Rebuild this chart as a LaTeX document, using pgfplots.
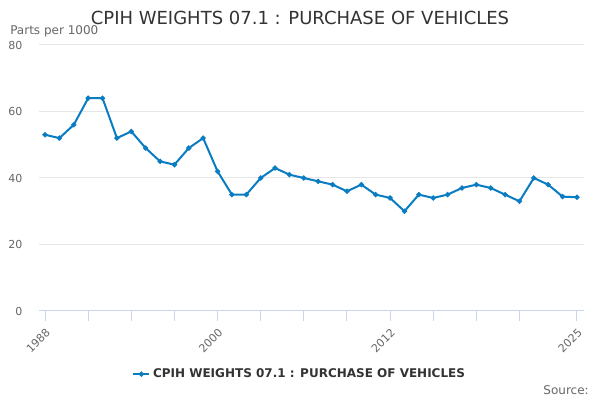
\documentclass[border=0pt]{standalone}
\usepackage{pgfplots}
\pgfplotsset{compat=1.18}
\usepackage{fontspec}
\setmainfont{DejaVu Sans}
\definecolor{serblue}{HTML}{0A7CC1}
\definecolor{axgrey}{HTML}{CCD6EB}
\definecolor{gridgrey}{HTML}{E6E6E6}
\definecolor{labgrey}{HTML}{666666}
\definecolor{txtdark}{HTML}{333333}
\pgfplotstableread{
year val
1988 53
1989 52
1990 56
1991 64
1992 64
1993 52
1994 54
1995 49
1996 45
1997 44
1998 49
1999 52
2000 42
2001 35
2002 35
2003 40
2004 43
2005 41
2006 40
2007 39
2008 38
2009 36
2010 38
2011 35
2012 34
2013 30
2014 35
2015 34
2016 35
2017 37
2018 38
2019 37
2020 35
2021 33
2022 40
2023 38
2024 34.4
2025 34.2
}\datatable
\begin{document}
\begin{tikzpicture}
\path[use as bounding box] (0pt,0pt) rectangle (450pt,300pt);
\begin{axis}[
  at={(29.25pt,66.75pt)}, anchor=south west,
  scale only axis, width=408.75pt, height=199.5pt,
  xmin=1987.58, xmax=2025.49, ymin=0, ymax=80,
  axis x line*=bottom, axis y line*=left,
  x axis line style={draw=axgrey, line width=0.75pt, -},
  y axis line style={draw=none},
  xtick={1988,1991,1994,1997,2000,2003,2006,2009,2012,2015,2018,2021,2025},
  xticklabels={1988,,,,2000,,,,2012,,,,2025},
  xtick align=outside, major tick length=7.5pt,
  xtick style={draw=axgrey, line width=0.75pt},
  ytick={0,20,40,60,80},
  ytick style={draw=none},
  ymajorgrids, grid style={draw=gridgrey, line width=0.75pt},
  /pgf/number format/assume math mode=true,
  x tick label style={rotate=45, anchor=north east, font=\fontsize{8.25pt}{9pt}\selectfont, text=labgrey},
  y tick label style={font=\fontsize{8.25pt}{9pt}\selectfont, text=labgrey, xshift=-9pt},
  legend style={at={(0.479,-0.237)}, anchor=center, draw=none, fill=none,
    font=\fontsize{9pt}{10pt}\selectfont\bfseries, text=txtdark},
  legend image code/.code={\draw[mark repeat=2,mark phase=2,#1] plot coordinates {(0cm,0cm)(0.21cm,0cm)(0.42cm,0cm)};},
]
\addplot[color=serblue, line width=1.5pt, mark=*, mark size=1.1pt] table[x=year,y=val]{\datatable};
\addlegendentry{CPIH WEIGHTS 07.1 : PURCHASE OF VEHICLES}
\end{axis}
\node[font=\fontsize{13.5pt}{15pt}\selectfont, text=txtdark] at (225pt,286.5pt) {CPIH WEIGHTS 07.1 : PURCHASE OF VEHICLES};
\node[font=\fontsize{9pt}{10pt}\selectfont, text=labgrey, anchor=west, inner sep=0pt] at (7.5pt,276.75pt) {Parts per 1000};
\node[font=\fontsize{9pt}{10pt}\selectfont, text=labgrey, anchor=east, inner sep=0pt] at (441.75pt,7.5pt) {Source:};
\end{tikzpicture}
\end{document}
